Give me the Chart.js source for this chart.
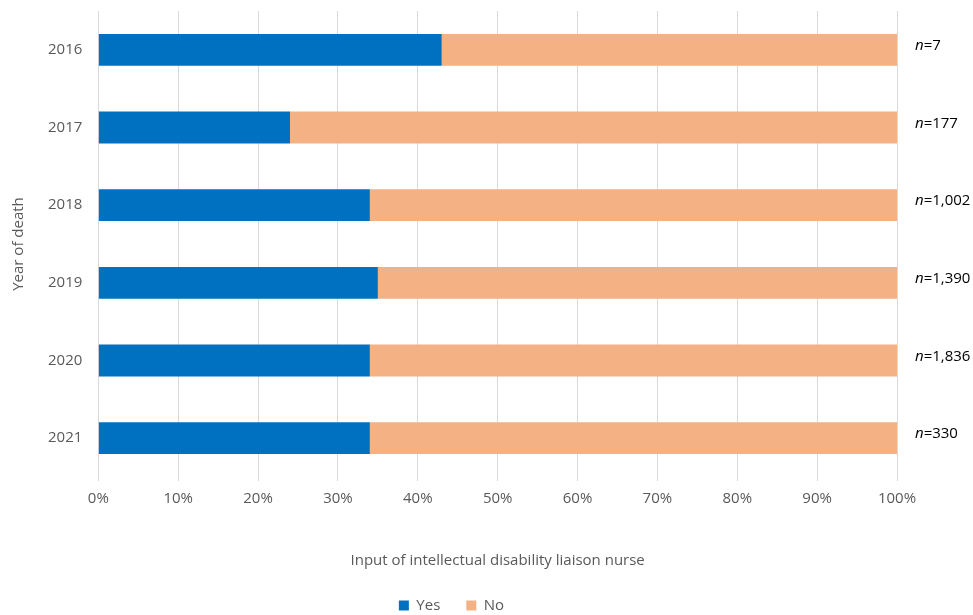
<!DOCTYPE html>
<html>
<head>
<meta charset="utf-8">
<script src="https://cdn.jsdelivr.net/npm/chart.js@4/dist/chart.umd.min.js"></script>
<style>
html,body{margin:0;padding:0;background:#fff;overflow:hidden;}
#wrap{width:973px;height:615px;position:relative;overflow:hidden;}
#c{position:absolute;left:0;top:-6px;}
</style>
</head>
<body>
<div id="wrap"><canvas id="c" width="973" height="621"></canvas></div>
<script>
const years = ["2016","2017","2018","2019","2020","2021"];
const yesPct = [43, 24, 34, 35, 34, 34];
const noPct = [57, 76, 66, 65, 66, 66];
const nLabels = ["7","177","1,002","1,390","1,836","330"];
const xTicks = ["0%","10%","20%","30%","40%","50%","60%","70%","80%","90%","100%"];

const FONT = "'Open Sans', sans-serif";
const GREY = "#595959";

const nPlugin = {
  id: 'nLabels',
  afterDatasetsDraw(chart) {
    const ctx = chart.ctx;
    const ys = chart.scales.y;
    const x0 = chart.chartArea.right + 18;
    ctx.save();
    ctx.textBaseline = 'middle';
    ctx.textAlign = 'left';
    ctx.fillStyle = '#000';
    nLabels.forEach((lab, i) => {
      const y = ys.getPixelForValue(i) - 4;
      ctx.font = "italic 15px " + FONT;
      ctx.fillText("n", x0, y);
      const w = ctx.measureText("n").width;
      ctx.font = "15px " + FONT;
      ctx.fillText("=" + lab, x0 + w, y);
    });
    ctx.restore();
  }
};

new Chart(document.getElementById('c'), {
  type: 'bar',
  data: {
    labels: years,
    datasets: [
      {label: 'Yes', data: yesPct, backgroundColor: '#0070C0', barPercentage: 0.41, categoryPercentage: 1},
      {label: 'No', data: noPct, backgroundColor: '#F4B183', barPercentage: 0.41, categoryPercentage: 1}
    ]
  },
  options: {
    indexAxis: 'y',
    responsive: false,
    animation: false,
    layout: {padding: {top: 0, right: 76, left: 6, bottom: -8}},
    plugins: {
      legend: {
        position: 'bottom',
        labels: {boxWidth: 10, boxHeight: 10, padding: 26, color: GREY, font: {family: FONT, size: 15}}
      },
      tooltip: {enabled: false}
    },
    scales: {
      x: {
        stacked: true, min: 0, max: 100,
        ticks: {stepSize: 10, color: GREY, font: {family: FONT, size: 15}, padding: 9,
          callback: (v, i) => xTicks[i]},
        grid: {color: '#d9d9d9', lineWidth: 1, drawTicks: true, tickLength: 4},
        border: {display: false},
        title: {display: true, text: 'Input of intellectual disability liaison nurse', color: GREY,
          font: {family: FONT, size: 15}, padding: {top: 35, bottom: 2}}
      },
      y: {
        stacked: true,
        ticks: {color: GREY, font: {family: FONT, size: 15}, padding: 8},
        grid: {display: false},
        border: {display: false},
        title: {display: true, text: 'Year of death', color: GREY, font: {family: FONT, size: 15}, padding: {bottom: 12}}
      }
    }
  },
  plugins: [nPlugin]
});
</script>
</body>
</html>
